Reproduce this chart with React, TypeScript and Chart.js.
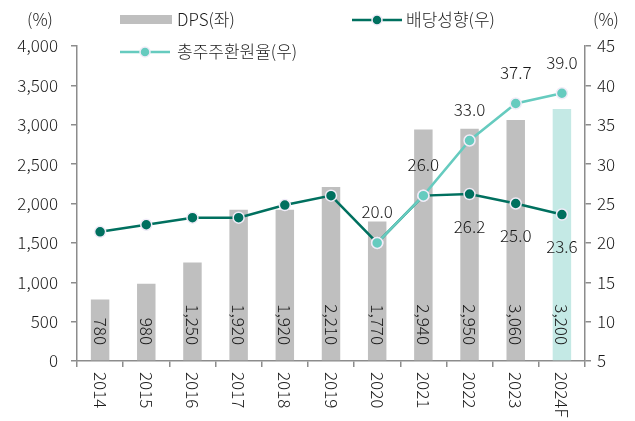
import React, { useEffect, useRef } from "react";
import { Chart, registerables } from "chart.js";
Chart.register(...registerables);

const categories = ["2014", "2015", "2016", "2017", "2018", "2019", "2020", "2021", "2022", "2023", "2024F"];
const dps = [780, 980, 1250, 1920, 1920, 2210, 1770, 2940, 2950, 3060, 3200];
const payoutRatio = [21.4, 22.3, 23.2, 23.2, 24.8, 26.0, 20.0, 26.0, 26.2, 25.0, 23.6];
const totalReturn = [null, null, null, null, null, null, 20.0, 26.0, 33.0, 37.7, 39.0];
const payoutLabelShown = [false, false, false, false, false, false, false, false, true, true, true];
const totalLabelShown = [false, false, false, false, false, false, true, true, true, true, true];
const leftAxis = { min: 0, max: 4000, step: 500 };
const rightAxis = { min: 5, max: 45, step: 5 };
const seriesNames = ["DPS(좌)", "배당성향(우)", "총주주환원율(우)"];

const FONT = "'Noto Sans CJK KR', 'Noto Sans', sans-serif";
const W = "300";
const GREY = "#bfbfbf";
const FORECAST = "#c4e9e5";
const DARK = "#00705f";
const TEAL = "#66cbbf";
const TEXT = "#1a1a1a";
const AXIS = "#8c8c8c";

const fmt = (v: number) => v.toLocaleString("en-US");

const overlay = {
  id: "overlay",
  afterDatasetsDraw(chart: any) {
    const ctx = chart.ctx;
    const x = chart.scales.x;
    const y = chart.scales.y;
    const y1 = chart.scales.y1;
    ctx.save();
    ctx.fillStyle = TEXT;
    ctx.font = `${W} 17px ${FONT}`;
    // bar labels rotated clockwise
    dps.forEach((v, i) => {
      const px = x.getPixelForValue(i);
      const base = y.getPixelForValue(0) - 16;
      ctx.save();
      ctx.translate(px, base);
      ctx.rotate(Math.PI / 2);
      ctx.textAlign = "right";
      ctx.textBaseline = "middle";
      ctx.fillText(fmt(v), 0, 0);
      ctx.restore();
    });
    // x labels
    categories.forEach((c, i) => {
      const px = x.getPixelForValue(i);
      ctx.save();
      ctx.translate(px, y.bottom + 11);
      ctx.rotate(Math.PI / 2);
      ctx.textAlign = "left";
      ctx.textBaseline = "middle";
      ctx.fillText(c, 0, 0);
      ctx.restore();
    });
    // line labels
    ctx.textAlign = "center";
    ctx.textBaseline = "middle";
    payoutRatio.forEach((v, i) => {
      if (!payoutLabelShown[i]) return;
      ctx.fillText(v.toFixed(1), x.getPixelForValue(i), y1.getPixelForValue(v) + 32);
    });
    totalReturn.forEach((v, i) => {
      if (v == null || !totalLabelShown[i]) return;
      ctx.fillText(v.toFixed(1), x.getPixelForValue(i), y1.getPixelForValue(v) - 31);
    });
    // unit labels
    ctx.fillText("(%)", 40, 20);
    ctx.fillText("(%)", 606, 20);
    // legend
    ctx.textAlign = "left";
    ctx.fillStyle = GREY;
    ctx.fillRect(120, 15, 52, 9);
    ctx.fillStyle = TEXT;
    ctx.fillText(seriesNames[0], 177, 20);
    const drawLine = (x0: number, yy: number, color: string) => {
      ctx.strokeStyle = color;
      ctx.lineWidth = 2.5;
      ctx.beginPath();
      ctx.moveTo(x0, yy);
      ctx.lineTo(x0 + 50, yy);
      ctx.stroke();
      ctx.beginPath();
      ctx.arc(x0 + 25, yy, 5, 0, Math.PI * 2);
      ctx.fillStyle = color;
      ctx.fill();
      ctx.lineWidth = 1.5;
      ctx.strokeStyle = "#f1ecf8";
      ctx.stroke();
    };
    drawLine(352, 20, DARK);
    ctx.fillStyle = TEXT;
    ctx.fillText(seriesNames[1], 406, 20);
    drawLine(120, 52, TEAL);
    ctx.fillStyle = TEXT;
    ctx.fillText(seriesNames[2], 177, 52);
    ctx.restore();
  },
};

export default function App() {
  const ref = useRef<HTMLCanvasElement>(null);
  useEffect(() => {
    if (!ref.current) return;
    const chart = new Chart(ref.current, {
      type: "bar",
      data: {
        labels: categories,
        datasets: [
          {
            type: "line",
            label: seriesNames[2],
            data: totalReturn as any,
            yAxisID: "y1",
            borderColor: TEAL,
            backgroundColor: TEAL,
            borderWidth: 2.5,
            pointRadius: 5.5,
            pointBorderWidth: 1.5,
            pointBorderColor: "#f1ecf8",
            pointBackgroundColor: TEAL,
            order: 1,
          },
          {
            type: "line",
            label: seriesNames[1],
            data: payoutRatio,
            yAxisID: "y1",
            borderColor: DARK,
            backgroundColor: DARK,
            borderWidth: 2.5,
            pointRadius: 5.5,
            pointBorderWidth: 1.5,
            pointBorderColor: "#f1ecf8",
            pointBackgroundColor: DARK,
            order: 2,
          },
          {
            type: "bar",
            label: seriesNames[0],
            data: dps,
            yAxisID: "y",
            backgroundColor: dps.map((_, i) => (i === dps.length - 1 ? FORECAST : GREY)),
            categoryPercentage: 1,
            barPercentage: 0.4,
            order: 3,
          },
        ],
      },
      options: {
        animation: false,
        responsive: false,
        maintainAspectRatio: false,
        layout: { padding: { top: 46, left: 0, right: 0, bottom: 0 } },
        plugins: { legend: { display: false }, tooltip: { enabled: false } },
        scales: {
          x: {
            offset: true,
            grid: { display: true, drawOnChartArea: false, offset: true, color: AXIS, tickLength: 6, lineWidth: 1.5 },
            border: { color: AXIS, width: 1.5 },
            ticks: { display: false },
            afterFit: (s: any) => { s.height = 60; },
          },
          y: {
            position: "left",
            min: leftAxis.min,
            max: leftAxis.max,
            grid: { drawOnChartArea: false, color: AXIS, tickLength: 6, lineWidth: 1.5 },
            border: { color: AXIS, width: 1.5 },
            ticks: { stepSize: leftAxis.step, color: TEXT, font: { family: FONT, size: 17, weight: W as any }, padding: 13, callback: (v: any) => fmt(Number(v)) },
            afterFit: (s: any) => { s.width = 77; },
          },
          y1: {
            position: "right",
            min: rightAxis.min,
            max: rightAxis.max,
            grid: { drawOnChartArea: false, color: AXIS, tickLength: 6, lineWidth: 1.5 },
            border: { color: AXIS, width: 1.5 },
            ticks: { stepSize: rightAxis.step, color: TEXT, font: { family: FONT, size: 17, weight: W as any }, padding: 6 },
            afterFit: (s: any) => { s.width = 50; },
          },
        },
      },
      plugins: [overlay],
    });
    return () => chart.destroy();
  }, []);
  return (
    <div style={{ position: "fixed", left: 0, top: 0, width: 635, height: 421, background: "#fff" }}>
      <canvas ref={ref} width={635} height={421} style={{ width: 635, height: 421 }} />
    </div>
  );
}
